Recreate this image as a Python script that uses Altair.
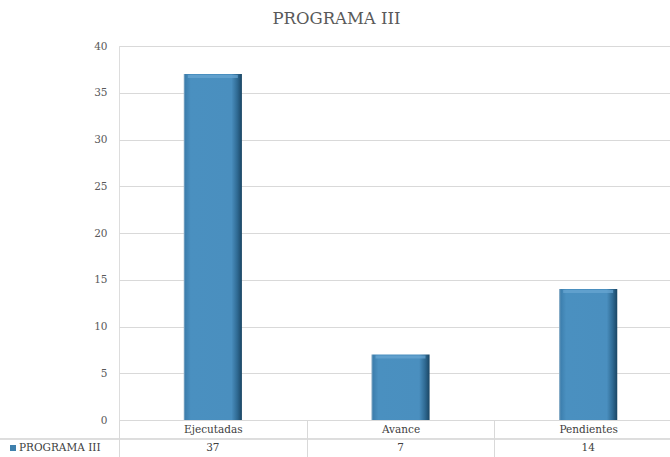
import altair as alt
import pandas as pd

categories = ["Ejecutadas", "Avance", "Pendientes"]
values = [37, 7, 14]
series_name = "PROGRAMA III"
title_text = "PROGRAMA III"

df = pd.DataFrame({"cat": categories, "val": values})

W, H = 551, 374
XR = 563  # x range extends past the visible window, as in the reference
FONT = "DejaVu Serif"
GRID = "#d9d9d9"

xscale = alt.Scale(paddingInner=0, paddingOuter=0, range=[0, XR])

xenc = alt.X("cat:N", sort=categories, scale=xscale,
             axis=alt.Axis(title=None, orient="bottom", labelAngle=0,
                           labelFont=FONT, labelFontSize=10.5, labelColor="#404040",
                           labelPadding=-33, labelBaseline="top",
                           domain=True, domainColor=GRID, domainWidth=1,
                           ticks=True, tickBand="extent", tickSize=37,
                           tickColor=GRID, tickWidth=1, grid=False))

bar_fill = alt.Gradient(
    gradient="linear", x1=0, x2=1, y1=0, y2=0,
    stops=[alt.GradientStop(offset=0, color="#8fb0c8"),
           alt.GradientStop(offset=0.03, color="#3d7fae"),
           alt.GradientStop(offset=0.12, color="#4a90c0"),
           alt.GradientStop(offset=0.82, color="#4a8fbf"),
           alt.GradientStop(offset=0.92, color="#2f6a93"),
           alt.GradientStop(offset=1, color="#1a4563")])

bars = alt.Chart(df).mark_bar(width=alt.RelativeBandSize(0.31), color=bar_fill,
                              cornerRadius=0).encode(
    x=xenc,
    y=alt.Y("val:Q", scale=alt.Scale(domain=[0, 40]),
            axis=alt.Axis(title=None, values=list(range(0, 41, 5)),
                          labelFont=FONT, labelFontSize=10.5, labelColor="#595959",
                          labelPadding=12, ticks=False, domain=False,
                          grid=True, gridColor=GRID, gridWidth=1)),
)

# top bevel highlight
top_bevel = alt.Chart(df).mark_tick(thickness=3, size=50, color="#69a7d3",
                                    orient="horizontal").encode(
    x=alt.X("cat:N", sort=categories, scale=xscale), y=alt.Y("val:Q"),
    yOffset=alt.value(2.5))

vals_text = alt.Chart(df).mark_text(font=FONT, fontSize=10.5, color="#404040",
                                    baseline="middle").encode(
    x=alt.X("cat:N", sort=categories, scale=xscale), y=alt.value(H + 28), text="val:Q")

row_line = alt.Chart(df).mark_rule(color=GRID, strokeWidth=1).encode(
    x=alt.value(-119), x2=alt.value(W), y=alt.value(H + 19))

legend_df = pd.DataFrame({"name": [series_name]})
legend_text = alt.Chart(legend_df).mark_text(font=FONT, fontSize=10.5, color="#404040",
                                             align="left", baseline="middle").encode(
    x=alt.value(-100), y=alt.value(H + 28), text="name:N")
legend_sq = alt.Chart(legend_df).mark_square(size=36, color="#3f80ad", opacity=1,
                                             filled=True).encode(
    x=alt.value(-106), y=alt.value(H + 28))

chart = alt.layer(bars, top_bevel, vals_text, row_line, legend_text, legend_sq).resolve_scale(
    x="shared", y="shared"
).properties(
    width=W, height=H,
    title=alt.TitleParams(title_text, font=FONT, fontSize=16.5, fontWeight="normal",
                          color="#595959", anchor="middle", dx=-58, offset=14),
    autosize=alt.AutoSizeParams(type="none"),
    padding={"left": 119, "top": 46, "right": 0, "bottom": 37},
).configure_view(stroke=None).configure(background="white")

chart.save("out.html", embed_options={"renderer": "svg", "actions": False})
